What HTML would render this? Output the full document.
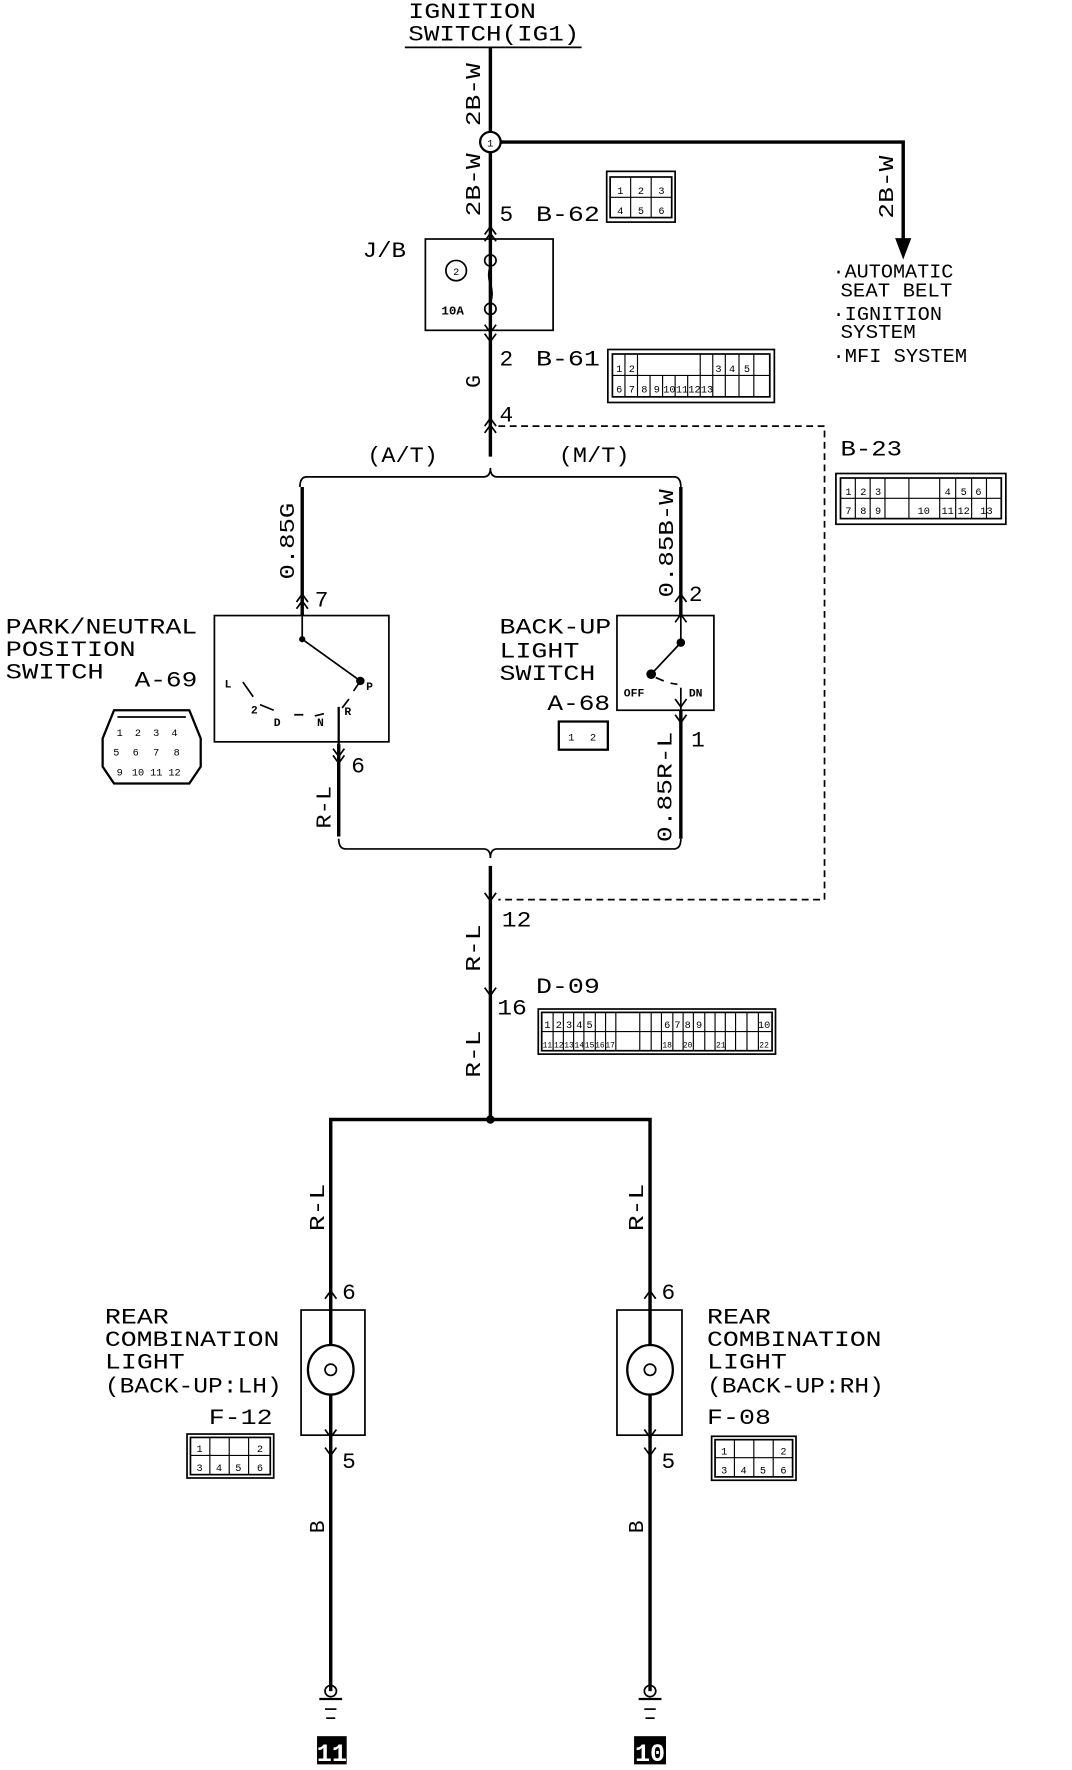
<!DOCTYPE html>
<html><head><meta charset="utf-8"><style>
html,body{margin:0;padding:0;background:#fff;}
svg{display:block;}
text{font-family:"Liberation Mono","DejaVu Sans Mono",monospace;fill:#000;}
</style></head><body>
<svg width="1072" height="1770" viewBox="0 0 940 1570" preserveAspectRatio="none" xmlns="http://www.w3.org/2000/svg">
<g stroke="#000" fill="none" stroke-width="1.5">
<!-- ignition -->
<line x1="355" y1="42" x2="510" y2="42"/>
<line x1="430" y1="42" x2="430" y2="405" stroke-width="3"/>
<circle cx="430" cy="126" r="9" fill="#fff" stroke-width="2"/>
<polyline points="439,126 792,126 792,215" stroke-width="3"/>
<polygon points="786,212 798,212 792,228" fill="#000"/>
<!-- chevrons at B-62 -->
<polyline points="425,214 430,207 435,214"/>
<polyline points="425,208 430,201 435,208"/>
<!-- J/B -->
<rect x="373" y="212" width="112" height="81"/>
<circle cx="400" cy="240" r="9"/>
<circle cx="430" cy="231" r="5"/>
<circle cx="430" cy="274" r="5"/>
<path d="M430 236 q-3 8 0 16 q3 8 0 17"/>
<polyline points="425,288 430,295 435,288"/>
<polyline points="425,296 430,303 435,296"/>
<!-- 4 chevrons -->
<polyline points="425,378 430,371 435,378"/>
<polyline points="425,384 430,377 435,384"/>
<!-- dashed -->
<polyline points="437,378 723,378 723,798 437,798" stroke-dasharray="6,4"/>
<!-- top brace -->
<path d="M263 432 q0 -9 6 -9 L424 423 q6 0 6 -8 q0 8 6 8 L591 423 q6 0 6 9"/>
<line x1="265" y1="432" x2="265" y2="546" stroke-width="3"/>
<line x1="597" y1="432" x2="597" y2="546" stroke-width="3"/>
<polyline points="260,534 265,527 270,534"/>
<polyline points="260,540 265,533 270,540"/>
<polyline points="592,534 597,527 602,534"/>
<polyline points="592,552 597,545 602,552"/>
<!-- PNP switch -->
<rect x="188" y="546" width="153" height="112"/>
<polyline points="265,546 265,567 316,604"/>
<circle cx="265" cy="567" r="2" fill="#000"/>
<circle cx="316" cy="604" r="3" fill="#000"/>
<path d="M213 605 L222 618 M228 625 L240 630 M258 634 L266 634 M276 635 L284 633 M300 628 L306 620 M310 613 L314 607" stroke-width="1.5"/>
<line x1="297" y1="627" x2="297" y2="742" stroke-width="2"/>
<line x1="297" y1="660" x2="297" y2="742" stroke-width="3"/>
<polyline points="292,664 297,671 302,664"/>
<polyline points="292,670 297,677 302,670"/>
<!-- backup switch -->
<rect x="541" y="546" width="85" height="84"/>
<polyline points="597,546 597,570 571,598"/>
<circle cx="597" cy="570" r="3" fill="#000"/>
<circle cx="571" cy="598" r="3.5" fill="#000"/>
<path d="M575 601 L582 604 M588 606 L594 607"/>
<line x1="597" y1="610" x2="597" y2="630"/>
<polyline points="592,620 597,627 602,620"/>
<polyline points="592,634 597,641 602,634"/>
<line x1="597" y1="630" x2="597" y2="744" stroke-width="3"/>
<!-- bottom brace -->
<path d="M297 744 q0 9 6 9 L424 753 q6 0 6 8 q0 -8 6 -8 L591 753 q6 0 6 -9"/>
<line x1="430" y1="768" x2="430" y2="993" stroke-width="3"/>
<polyline points="425,792 430,799 435,792"/>
<polyline points="425,876 430,883 435,876"/>
<!-- split -->
<polyline points="290,1500 290,993 570,993 570,1500" stroke-width="3"/>
<circle cx="430" cy="993" r="3" fill="#000"/>
<!-- lamps -->
<rect x="264" y="1162" width="56" height="111"/>
<rect x="541" y="1162" width="57" height="111"/>
<polyline points="285,1152 290,1145 295,1152"/>
<polyline points="565,1152 570,1145 575,1152"/>
<polyline points="285,1268 290,1275 295,1268"/>
<polyline points="285,1284 290,1291 295,1284"/>
<polyline points="565,1268 570,1275 575,1268"/>
<polyline points="565,1284 570,1291 575,1284"/>
<ellipse cx="290" cy="1215" rx="20" ry="22" fill="#fff" stroke-width="2"/>
<ellipse cx="570" cy="1215" rx="20" ry="22" fill="#fff" stroke-width="2"/>
<circle cx="290" cy="1215" r="5"/>
<circle cx="570" cy="1215" r="5"/>
<!-- grounds -->
<circle cx="290" cy="1500" r="5"/>
<circle cx="570" cy="1500" r="5"/>
<line x1="280" y1="1507" x2="300" y2="1507" stroke-width="2"/>
<line x1="560" y1="1507" x2="580" y2="1507" stroke-width="2"/>
<line x1="285" y1="1516" x2="295" y2="1516"/>
<line x1="565" y1="1516" x2="575" y2="1516"/>
<line x1="286" y1="1524" x2="294" y2="1524"/>
<line x1="566" y1="1524" x2="574" y2="1524"/>
<!-- connector boxes -->
<rect x="532" y="152" width="60" height="45"/><rect x="535" y="157" width="54" height="36"/>
<rect x="533" y="310" width="146" height="47"/><rect x="537" y="314" width="138" height="38"/>
<rect x="733" y="420" width="149" height="45"/><rect x="737" y="424" width="141" height="36"/>
<rect x="472" y="895" width="208" height="40"/><rect x="475" y="898" width="202" height="34"/>
<rect x="164" y="1272" width="76" height="39"/><rect x="167" y="1275" width="70" height="33"/>
<rect x="624" y="1274" width="74" height="39"/><rect x="627" y="1277" width="68" height="33"/>
<rect x="490" y="640" width="43" height="25" stroke-width="2"/>
<path d="M100 630 L166 630 L176 655 L176 680 L166 695 L100 695 L90 680 L90 655 Z" stroke-width="2"/>
<line x1="103" y1="636" x2="163" y2="636"/>
</g>
<!-- grid lines in connectors -->
<g stroke="#000" stroke-width="1">
<path d="M535 175 H589 M553 157 V193 M571 157 V193"/>
<path d="M537 333 H675 M548 314V352 M559 314V352 M570 333V352 M581 333V352 M592 333V352 M603 333V352 M614 314V352 M625 314V352 M636 314V352 M648 314V352 M661 314V352"/>
<path d="M737 442 H878 M750 424V460 M763 424V460 M776 424V460 M797 424V460 M824 424V460 M838 424V460 M852 424V460 M865 424V460"/>
<path d="M475 915 H677 M485 898V932 M494 898V932 M503 898V932 M512 898V932 M522 898V932 M531 898V932 M540 898V932 M561 898V932 M571 898V932 M580 898V932 M590 898V932 M599 898V932 M608 898V932 M618 898V932 M627 898V932 M636 898V932 M645 898V932 M655 898V932 M665 898V932"/>
<path d="M167 1291 H237 M184 1275V1308 M201 1275V1308 M218 1275V1308"/>
<path d="M627 1293 H695 M644 1277V1310 M661 1277V1310 M678 1277V1310"/>
</g>
<g font-size="9" text-anchor="middle">
<text x="544" y="172">1</text><text x="562" y="172">2</text><text x="580" y="172">3</text>
<text x="544" y="190">4</text><text x="562" y="190">5</text><text x="580" y="190">6</text>
<text x="543" y="330">1</text><text x="554" y="330">2</text><text x="630" y="330">3</text><text x="642" y="330">4</text><text x="655" y="330">5</text>
<text x="543" y="348">6</text><text x="554" y="348">7</text><text x="565" y="348">8</text><text x="576" y="348">9</text><text x="587" y="348">10</text><text x="598" y="348">11</text><text x="609" y="348">12</text><text x="620" y="348">13</text>
<text x="744" y="439">1</text><text x="757" y="439">2</text><text x="770" y="439">3</text><text x="831" y="439">4</text><text x="845" y="439">5</text><text x="858" y="439">6</text>
<text x="744" y="456">7</text><text x="757" y="456">8</text><text x="770" y="456">9</text><text x="810" y="456">10</text><text x="831" y="456">11</text><text x="845" y="456">12</text><text x="865" y="456">13</text>
<text x="480" y="912">1</text><text x="490" y="912">2</text><text x="499" y="912">3</text><text x="508" y="912">4</text><text x="517" y="912">5</text><text x="585" y="912">6</text><text x="594" y="912">7</text><text x="603" y="912">8</text><text x="613" y="912">9</text><text x="670" y="912">10</text>
<text x="480" y="929" font-size="7">11</text><text x="490" y="929" font-size="7">12</text><text x="499" y="929" font-size="7">13</text><text x="508" y="929" font-size="7">14</text><text x="517" y="929" font-size="7">15</text><text x="526" y="929" font-size="7">16</text><text x="535" y="929" font-size="7">17</text><text x="585" y="929" font-size="7">18</text><text x="603" y="929" font-size="7">20</text><text x="632" y="929" font-size="7">21</text><text x="670" y="929" font-size="7">22</text>
<text x="175" y="1288">1</text><text x="228" y="1288">2</text><text x="175" y="1305">3</text><text x="192" y="1305">4</text><text x="209" y="1305">5</text><text x="228" y="1305">6</text>
<text x="635" y="1290">1</text><text x="687" y="1290">2</text><text x="635" y="1307">3</text><text x="652" y="1307">4</text><text x="669" y="1307">5</text><text x="687" y="1307">6</text>
<text x="501" y="657">1</text><text x="520" y="657">2</text>
<text x="105" y="653">1</text><text x="121" y="653">2</text><text x="137" y="653">3</text><text x="153" y="653">4</text>
<text x="102" y="670">5</text><text x="119" y="670">6</text><text x="137" y="670">7</text><text x="155" y="670">8</text>
<text x="105" y="688">9</text><text x="121" y="688">10</text><text x="137" y="688">11</text><text x="153" y="688">12</text>
<text x="430" y="130">1</text>
<text x="400" y="244">2</text>
</g>
<g font-size="11" font-weight="bold" font-family="Liberation Sans,sans-serif">
<text x="387" y="279">10A</text>
<text x="547" y="618" font-size="10">OFF</text>
<text x="604" y="618" font-size="10">DN</text>
<text x="321" y="612" font-size="10">P</text>
<text x="197" y="610" font-size="10">L</text>
<text x="220" y="633" font-size="10">2</text>
<text x="240" y="644" font-size="10">D</text>
<text x="278" y="644" font-size="10">N</text>
<text x="302" y="634" font-size="10">R</text>
</g>
<g font-size="20">
<text x="358" y="16" textLength="112" lengthAdjust="spacingAndGlyphs">IGNITION</text>
<text x="358" y="36" textLength="150" lengthAdjust="spacingAndGlyphs">SWITCH(IG1)</text>
<text x="438" y="196">5</text>
<text x="470" y="196" textLength="56" lengthAdjust="spacingAndGlyphs">B-62</text>
<text x="318" y="228" textLength="38" lengthAdjust="spacingAndGlyphs">J/B</text>
<text x="438" y="324">2</text>
<text x="470" y="324" textLength="56" lengthAdjust="spacingAndGlyphs">B-61</text>
<text x="438" y="374">4</text>
<text x="322" y="410" textLength="62" lengthAdjust="spacingAndGlyphs">(A/T)</text>
<text x="490" y="410" textLength="62" lengthAdjust="spacingAndGlyphs">(M/T)</text>
<text x="737" y="404" textLength="54" lengthAdjust="spacingAndGlyphs">B-23</text>
<text x="276" y="538">7</text>
<text x="604" y="533">2</text>
<text x="5" y="562" textLength="168" lengthAdjust="spacingAndGlyphs">PARK/NEUTRAL</text>
<text x="5" y="582" textLength="114" lengthAdjust="spacingAndGlyphs">POSITION</text>
<text x="5" y="602" textLength="86" lengthAdjust="spacingAndGlyphs">SWITCH</text>
<text x="118" y="609" textLength="55" lengthAdjust="spacingAndGlyphs">A-69</text>
<text x="308" y="685">6</text>
<text x="438" y="562" textLength="98" lengthAdjust="spacingAndGlyphs">BACK-UP</text>
<text x="438" y="583" textLength="70" lengthAdjust="spacingAndGlyphs">LIGHT</text>
<text x="438" y="603" textLength="84" lengthAdjust="spacingAndGlyphs">SWITCH</text>
<text x="480" y="630" textLength="55" lengthAdjust="spacingAndGlyphs">A-68</text>
<text x="606" y="662">1</text>
<text x="440" y="822" textLength="26" lengthAdjust="spacingAndGlyphs">12</text>
<text x="470" y="881" textLength="56" lengthAdjust="spacingAndGlyphs">D-09</text>
<text x="436" y="900" textLength="26" lengthAdjust="spacingAndGlyphs">16</text>
<text x="300" y="1152">6</text>
<text x="580" y="1152">6</text>
<text x="300" y="1302">5</text>
<text x="580" y="1302">5</text>
<text x="92" y="1174" textLength="56" lengthAdjust="spacingAndGlyphs">REAR</text>
<text x="92" y="1194" textLength="153" lengthAdjust="spacingAndGlyphs">COMBINATION</text>
<text x="92" y="1214" textLength="70" lengthAdjust="spacingAndGlyphs">LIGHT</text>
<text x="92" y="1235" textLength="155" lengthAdjust="spacingAndGlyphs">(BACK-UP:LH)</text>
<text x="183" y="1263" textLength="56" lengthAdjust="spacingAndGlyphs">F-12</text>
<text x="620" y="1174" textLength="56" lengthAdjust="spacingAndGlyphs">REAR</text>
<text x="620" y="1194" textLength="153" lengthAdjust="spacingAndGlyphs">COMBINATION</text>
<text x="620" y="1214" textLength="70" lengthAdjust="spacingAndGlyphs">LIGHT</text>
<text x="620" y="1235" textLength="155" lengthAdjust="spacingAndGlyphs">(BACK-UP:RH)</text>
<text x="620" y="1263" textLength="56" lengthAdjust="spacingAndGlyphs">F-08</text>
</g>
<g font-size="17">
<text x="730" y="246" textLength="106" lengthAdjust="spacingAndGlyphs">·AUTOMATIC</text>
<text x="737" y="263" textLength="98" lengthAdjust="spacingAndGlyphs">SEAT BELT</text>
<text x="730" y="284" textLength="96" lengthAdjust="spacingAndGlyphs">·IGNITION</text>
<text x="737" y="300" textLength="66" lengthAdjust="spacingAndGlyphs">SYSTEM</text>
<text x="730" y="321" textLength="118" lengthAdjust="spacingAndGlyphs">·MFI SYSTEM</text>
</g>
<!-- rotated labels -->
<g font-size="19">
<text transform="translate(421,112) rotate(-90)" textLength="56" lengthAdjust="spacingAndGlyphs">2B-W</text>
<text transform="translate(421,192) rotate(-90)" textLength="56" lengthAdjust="spacingAndGlyphs">2B-W</text>
<text transform="translate(783,194) rotate(-90)" textLength="56" lengthAdjust="spacingAndGlyphs">2B-W</text>
<text transform="translate(421,344) rotate(-90)">G</text>
<text transform="translate(258,514) rotate(-90)" textLength="68" lengthAdjust="spacingAndGlyphs">0.85G</text>
<text transform="translate(590,530) rotate(-90)" textLength="96" lengthAdjust="spacingAndGlyphs">0.85B-W</text>
<text transform="translate(290,735) rotate(-90)" textLength="38" lengthAdjust="spacingAndGlyphs">R-L</text>
<text transform="translate(589,747) rotate(-90)" textLength="98" lengthAdjust="spacingAndGlyphs">0.85R-L</text>
<text transform="translate(421,862) rotate(-90)" textLength="42" lengthAdjust="spacingAndGlyphs">R-L</text>
<text transform="translate(421,956) rotate(-90)" textLength="42" lengthAdjust="spacingAndGlyphs">R-L</text>
<text transform="translate(284,1092) rotate(-90)" textLength="42" lengthAdjust="spacingAndGlyphs">R-L</text>
<text transform="translate(564,1092) rotate(-90)" textLength="42" lengthAdjust="spacingAndGlyphs">R-L</text>
<text transform="translate(284,1360) rotate(-90)">B</text>
<text transform="translate(564,1360) rotate(-90)">B</text>
</g>
<rect x="278" y="1540" width="26" height="25" fill="#000"/>
<rect x="556" y="1540" width="28" height="25" fill="#000"/>
<text x="291" y="1562" font-size="22" font-weight="bold" text-anchor="middle" style="fill:#fff" font-family="Liberation Sans,sans-serif">11</text>
<text x="570" y="1562" font-size="22" font-weight="bold" text-anchor="middle" style="fill:#fff" font-family="Liberation Sans,sans-serif">10</text>
</svg>
</body></html>
